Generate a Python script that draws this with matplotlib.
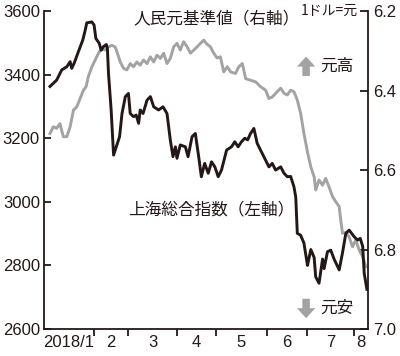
import matplotlib.pyplot as plt

# trading-day index (0 = start of 2018)
sh_day = [2.7, 5.7, 8.0, 10.3, 11.8, 12.5, 13.6, 15.5, 17.5, 18.6, 19.3, 21.6, 22.6, 23.4,
          24.9, 25.8, 26.8, 28.1, 28.6, 29.1, 30.3, 31.1, 31.4, 32.6, 34.1, 35.2, 36.7,
          38.1, 38.9, 40.4, 41.6, 42.7, 43.4, 44.7, 46.5, 48.0, 49.5, 51.7, 53.7, 55.5,
          57.0, 58.2, 59.3, 60.0, 61.5, 63.8, 65.0, 66.8, 68.3, 69.8, 71.0, 72.5, 74.1,
          75.6, 77.1, 78.6, 80.1, 82.4, 84.6, 86.1, 87.6, 89.1, 90.6, 91.9, 93.2, 94.7,
          96.2, 97.7, 100.0, 101.5, 103.0, 104.5, 106.8, 108.3, 109.8, 111.3, 112.8, 113.6,
          114.3, 115.8, 117.3, 118.9, 120.4, 121.9, 122.6, 124.1, 125.7, 126.4, 127.9,
          129.4, 130.9, 133.2, 134.7, 136.2, 137.7, 140.0, 141.5, 142.7, 143.8, 144.5, 145.7]
shanghai = [3363, 3383, 3415, 3425, 3441, 3420, 3436, 3472, 3509, 3540, 3563, 3566, 3556, 3514,
            3499, 3477, 3488, 3495, 3483, 3404, 3289, 3185, 3147, 3173, 3205, 3278, 3331,
            3341, 3278, 3268, 3273, 3247, 3289, 3278, 3320, 3331, 3299, 3289, 3299, 3278,
            3194, 3142, 3173, 3137, 3179, 3173, 3142, 3205, 3215, 3142, 3079, 3121, 3090,
            3126, 3110, 3079, 3100, 3163, 3173, 3189, 3173, 3189, 3200, 3195, 3215, 3231,
            3184, 3163, 3131, 3110, 3121, 3100, 3110, 3090, 3079, 3080, 3047, 3015,
            2901, 2895, 2870, 2800, 2850, 2825, 2764, 2744, 2820, 2790, 2843,
            2848, 2820, 2786, 2840, 2901, 2911, 2890, 2880, 2885, 2860, 2775, 2725]

cny_day = [2.7, 4.2, 5.7, 7.2, 8.7, 10.3, 11.8, 13.3, 14.8, 16.3, 17.8, 19.0, 20.0, 21.6,
           23.1, 24.6, 26.1, 27.6, 29.1, 30.6, 32.1, 32.9, 34.4, 35.9, 37.4, 38.9, 40.4,
           41.9, 43.4, 44.9, 46.5, 48.0, 49.5, 51.0, 52.5, 54.0, 55.5, 57.0, 58.5, 60.0,
           61.5, 63.0, 64.6, 66.1, 67.6, 69.1, 70.6, 72.1, 73.3, 75.1, 76.6, 78.1, 79.6,
           81.1, 82.7, 84.2, 86.4, 87.9, 89.5, 91.0, 93.2, 95.5, 97.7, 100.0, 101.5, 103.0,
           104.5, 106.8, 108.3, 109.8, 111.3, 112.8, 114.3, 115.8, 117.3, 118.9, 120.4,
           121.9, 122.6, 124.1, 125.7, 127.1, 128.6, 130.2, 131.7, 133.2, 133.9, 134.7,
           136.2, 137.7, 139.2, 140.7, 142.2, 143.8, 145.2]
cny = [6.508, 6.491, 6.495, 6.483, 6.516, 6.516, 6.491, 6.449, 6.441, 6.420, 6.399, 6.390,
       6.365, 6.340, 6.323, 6.306, 6.294, 6.298, 6.290, 6.286, 6.290, 6.302, 6.328, 6.344,
       6.348, 6.332, 6.340, 6.328, 6.336, 6.323, 6.332, 6.315, 6.328, 6.311, 6.319, 6.306,
       6.332, 6.319, 6.290, 6.281, 6.298, 6.277, 6.290, 6.306, 6.298, 6.290, 6.281, 6.273,
       6.282, 6.290, 6.306, 6.318, 6.315, 6.353, 6.340, 6.353, 6.357, 6.340, 6.332, 6.370,
       6.374, 6.378, 6.390, 6.399, 6.420, 6.416, 6.407, 6.394, 6.407, 6.411, 6.399, 6.403,
       6.424, 6.457, 6.508, 6.555, 6.592, 6.617, 6.650, 6.625, 6.638, 6.621, 6.642, 6.667,
       6.680, 6.692, 6.726, 6.759, 6.757, 6.768, 6.793, 6.776, 6.801, 6.818, 6.843]

month_starts = [22.6, 38.0, 60.2, 77.4, 100.5, 118.6, 139.8]
month_labels = ['2018/1', '2', '3', '4', '5', '6', '7', '8']
x_end = 146.2

dark = '#231815'
gray = '#a3a3a3'
num_font = 'Liberation Sans'
jp_font = ['Noto Sans CJK JP', 'DejaVu Sans']

fig = plt.figure(figsize=(4, 3.56), dpi=100)
ax = fig.add_axes([0.11, 0.0758, 0.81, 0.893])
ax2 = ax.twinx()
ax.set_zorder(ax2.get_zorder() + 1)
ax.patch.set_visible(False)

ax2.plot(cny_day, cny, color=gray, lw=2.1, solid_joinstyle='round')
ax.plot(sh_day, shanghai, color=dark, lw=2.1, solid_joinstyle='round')

ax.set_xlim(0, x_end)
ax.set_ylim(2600, 3600)
ax2.set_ylim(7.0, 6.2)

ax.set_yticks(range(2600, 3601, 200))
ax2.set_yticks([6.2, 6.4, 6.6, 6.8, 7.0])
ax2.set_yticklabels(['6.2', '6.4', '6.6', '6.8', '7.0'])

# month boundaries as ticks, month names centred between them
bounds = [0] + month_starts + [x_end]
mids = [(a + b) / 2 for a, b in zip(bounds[:-1], bounds[1:])]
ax.set_xticks(month_starts)
ax.set_xticklabels([])
ax.set_xticks(mids, minor=True)
ax.set_xticklabels(month_labels, minor=True)

for a in (ax, ax2):
    for s in a.spines.values():
        s.set_color(dark)
        s.set_linewidth(1.3)
    a.spines['top'].set_visible(False)
ax.spines['right'].set_visible(False)
ax2.spines['left'].set_visible(False)
ax2.spines['bottom'].set_visible(False)

ax.tick_params(axis='y', direction='in', length=5, width=1.3, color=dark, pad=3,
               labelsize=12, labelcolor=dark)
ax2.tick_params(axis='y', direction='in', length=6, width=1.3, color=dark, pad=4,
                labelsize=12, labelcolor=dark)
ax.tick_params(axis='x', which='major', direction='out', length=5, width=1.3, color=dark)
ax.tick_params(axis='x', which='minor', length=0, pad=4, labelsize=12, labelcolor=dark)
for lab in ax.get_yticklabels() + ax2.get_yticklabels() + ax.get_xticklabels(minor=True):
    lab.set_fontfamily(num_font)

ax.text(0.275, 0.975, '人民元基準値（右軸）', transform=ax.transAxes, fontsize=12,
        family=jp_font, color=dark, ha='left', va='center')
ax.text(0.26, 0.375, '上海総合指数（左軸）', transform=ax.transAxes, fontsize=12,
        family=jp_font, color=dark, ha='left', va='center')
ax.text(0.968, 1.0, '1ドル=元', transform=ax.transAxes, fontsize=10,
        family=jp_font, color=dark, ha='right', va='center')
ax.text(0.852, 0.825, '元高', transform=ax.transAxes, fontsize=12,
        family=jp_font, color=dark, ha='left', va='center')
ax.text(0.852, 0.064, '元安', transform=ax.transAxes, fontsize=12,
        family=jp_font, color=dark, ha='left', va='center')

arrow = dict(arrowstyle='simple,head_width=1.1,head_length=0.6,tail_width=0.45',
             color=gray, lw=0, mutation_scale=12, shrinkA=0, shrinkB=0)
ax.annotate('', xy=(0.809, 0.857), xytext=(0.809, 0.796), xycoords='axes fraction',
            textcoords='axes fraction', arrowprops=arrow)
ax.annotate('', xy=(0.809, 0.034), xytext=(0.809, 0.095), xycoords='axes fraction',
            textcoords='axes fraction', arrowprops=arrow)

fig.savefig('out.png', dpi=100)
